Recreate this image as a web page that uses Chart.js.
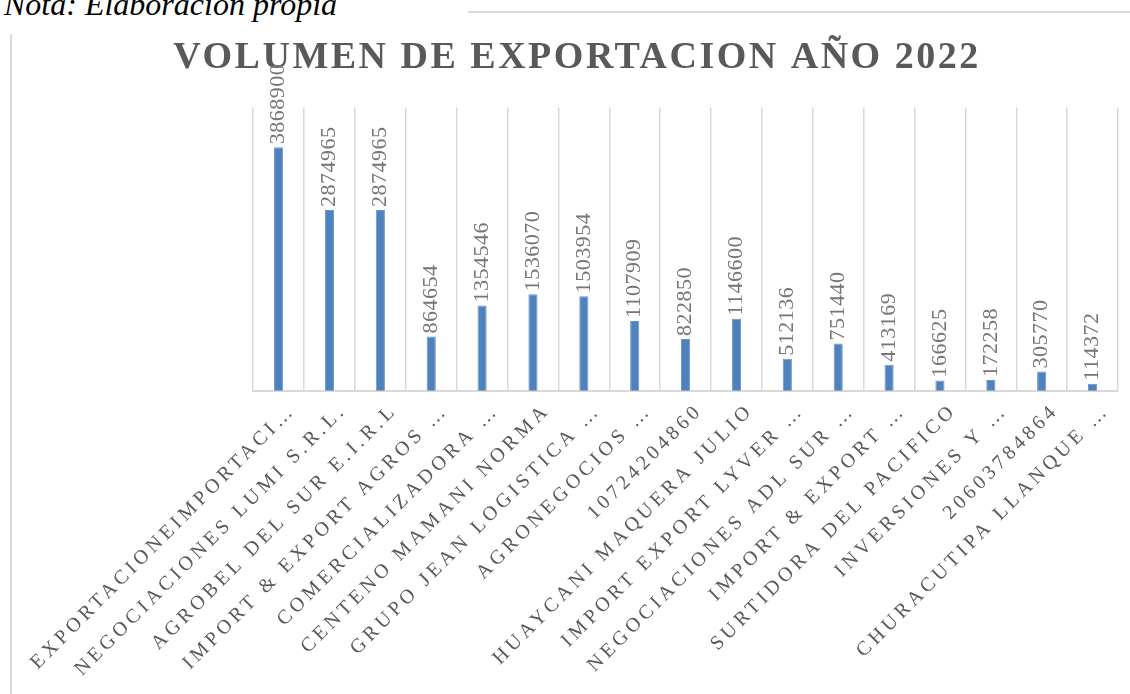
<!DOCTYPE html>
<html>
<head>
<meta charset="utf-8">
<script src="https://cdn.jsdelivr.net/npm/chart.js@4/dist/chart.umd.min.js"></script>
<style>
  html, body { margin: 0; padding: 0; background: #fff; }
  body { width: 1130px; height: 694px; position: relative; overflow: hidden; }
  #nota { position: absolute; left: 4px; top: -11px; font: italic 32px/31px "Liberation Serif", serif; color: #000; white-space: nowrap; }
  #linea { position: absolute; left: 468px; top: 11px; width: 662px; height: 0; border-top: 2px solid #d9d9d9; }
  #marco { position: absolute; left: 10px; top: 34px; width: 0; height: 660px; border-left: 2px solid #d9d9d9; }
  #wrap { position: absolute; left: 12px; top: 0; width: 1118px; height: 694px; }
</style>
</head>
<body>
<div id="nota">Nota: Elaboracion propia</div>
<div id="linea"></div>
<div id="marco"></div>
<div id="wrap"><canvas id="exportaciones"></canvas></div>
<script>
var empresas = [
  "EXPORTACIONEIMPORTACI…",
  "NEGOCIACIONES LUMI S.R.L.",
  "AGROBEL DEL SUR E.I.R.L",
  "IMPORT & EXPORT AGROS …",
  "COMERCIALIZADORA …",
  "CENTENO MAMANI NORMA",
  "GRUPO JEAN LOGISTICA …",
  "AGRONEGOCIOS …",
  "10724204860",
  "HUAYCANI MAQUERA JULIO",
  "IMPORT EXPORT LYVER …",
  "NEGOCIACIONES ADL SUR …",
  "IMPORT & EXPORT …",
  "SURTIDORA DEL PACIFICO",
  "INVERSIONES Y …",
  "20603784864",
  "CHURACUTIPA LLANQUE …"
];
var volumen = [3868900, 2874965, 2874965, 864654, 1354546, 1536070, 1503954, 1107909,
  822850, 1146600, 512136, 751440, 413169, 166625, 172258, 305770, 114372];

var titulo = "  VOLUMEN DE EXPORTACION AÑO 2022";

var canvas = document.getElementById("exportaciones");
var ctx = canvas.getContext('2d');

// espaciado de letras segun la fuente (titulo, etiquetas del eje, valores)
function espacio(c){
  if (/bold/.test(c.font)) return '2.5px';
  if (/20px/.test(c.font)) return '4px';
  return '0.5px';
}
var fillOrig = ctx.fillText, measureOrig = ctx.measureText;
ctx.fillText = function(){ this.letterSpacing = espacio(this); return fillOrig.apply(this, arguments); };
ctx.measureText = function(){ this.letterSpacing = espacio(this); return measureOrig.apply(this, arguments); };

// valores encima de cada barra, girados
var etiquetas = {
  id: 'etiquetas',
  afterDatasetsDraw: function(chart){
    var c = chart.ctx;
    var meta = chart.getDatasetMeta(0);
    c.save();
    c.font = '22px "Liberation Serif", serif';
    c.fillStyle = '#767676';
    c.textAlign = 'left';
    c.textBaseline = 'middle';
    meta.data.forEach(function(bar, i){
      c.save();
      c.translate(bar.x, bar.y - 3);
      c.rotate(-Math.PI / 2);
      c.fillText(String(volumen[i]), 0, 0);
      c.restore();
    });
    c.restore();
  }
};

new Chart(canvas, {
  type: 'bar',
  data: {
    labels: empresas,
    datasets: [{
      label: "Volumen",
      data: volumen,
      backgroundColor: '#4f81bd',
      borderColor: '#6a95cc',
      borderWidth: 1,
      barPercentage: 0.9,
      categoryPercentage: 0.2,
      clip: false
    }]
  },
  options: {
    responsive: true,
    maintainAspectRatio: false,
    animation: false,
    layout: { padding: { top: 35, left: 0, right: 12, bottom: 5 } },
    plugins: {
      legend: { display: false },
      tooltip: { enabled: false },
      title: {
        display: true,
        text: titulo,
        color: '#595959',
        font: { family: '"Liberation Serif", serif', size: 38, weight: 'bold', lineHeight: 1.2 },
        padding: { top: 0, bottom: 27 }
      }
    },
    scales: {
      x: {
        grid: { color: '#d9d9d9', lineWidth: 1.5, drawTicks: false, offset: true },
        border: { color: '#d9d9d9', width: 2 },
        ticks: {
          color: '#595959',
          font: { family: '"Liberation Serif", serif', size: 20 },
          minRotation: 45,
          maxRotation: 45,
          autoSkip: false,
          padding: 8,
          labelOffset: 14
        }
      },
      y: {
        display: false,
        min: 0,
        max: 4500000
      }
    }
  },
  plugins: [etiquetas]
});
</script>
</body>
</html>
